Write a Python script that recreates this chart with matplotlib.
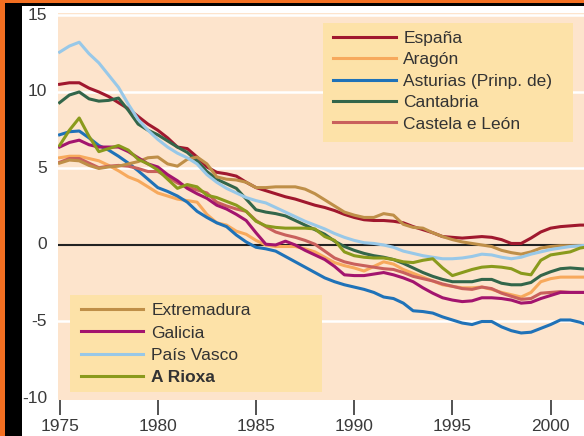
import numpy as np
import matplotlib.pyplot as plt
from matplotlib.patches import Rectangle

plt.rcParams['font.family'] = ['Liberation Sans', 'DejaVu Sans']

# half-year grid, 1975 - 2002
years = np.arange(1975, 2002.01, 0.5)

espana = [10.5, 10.6, 10.6, 10.25, 10.0, 9.7, 9.3, 8.9, 8.4, 7.9,
          7.5, 7.0, 6.4, 6.3, 5.75, 5.1, 4.75, 4.65, 4.5, 4.1,
          3.75, 3.55, 3.35, 3.15, 3.0, 2.8, 2.6, 2.45, 2.25, 2.0,
          1.8, 1.65, 1.6, 1.6, 1.55, 1.45, 1.2, 1.0, 0.8, 0.55,
          0.5, 0.45, 0.5, 0.55, 0.5, 0.35, 0.1, 0.1, 0.45, 0.85,
          1.1, 1.2, 1.25, 1.3, 1.3]
aragon = [5.7, 5.8, 5.8, 5.65, 5.5, 5.2, 4.85, 4.45, 4.2, 3.8,
          3.4, 3.2, 3.0, 2.9, 2.8, 2.0, 1.45, 1.3, 0.9, 0.7,
          0.3, 0.0, -0.1, -0.1, -0.1, -0.25, -0.45, -0.8, -1.15, -1.35,
          -1.5, -1.7, -1.4, -1.1, -1.25, -1.6, -1.85, -2.1, -2.35, -2.6,
          -2.7, -2.8, -2.8, -2.75, -2.9, -3.1, -3.25, -3.4, -3.1, -2.4,
          -2.2, -2.1, -2.1, -2.1, -2.1]
asturias = [7.2, 7.4, 7.45, 7.0, 6.5, 6.2, 5.8, 5.35, 4.85, 4.3,
            3.75, 3.5, 3.2, 2.8, 2.2, 1.8, 1.45, 1.2, 0.65, 0.2,
            -0.15, -0.25, -0.4, -0.75, -1.1, -1.45, -1.8, -2.15, -2.4, -2.6,
            -2.75, -2.9, -3.1, -3.4, -3.5, -3.8, -4.3, -4.35, -4.45, -4.7,
            -4.9, -5.1, -5.2, -5.0, -5.0, -5.35, -5.6, -5.75, -5.7, -5.45,
            -5.2, -4.9, -4.9, -5.05, -5.3]
cantabria = [9.3, 9.8, 10.0, 9.55, 9.4, 9.45, 9.6, 8.8, 7.9, 7.5,
             7.2, 6.8, 6.4, 6.05, 5.5, 4.8, 4.3, 4.0, 3.7, 3.0,
             2.3, 2.15, 2.05, 1.9, 1.6, 1.3, 1.0, 0.7, 0.25, -0.1,
             -0.35, -0.55, -0.7, -0.8, -0.95, -1.2, -1.5, -1.8, -2.05, -2.25,
             -2.4, -2.4, -2.4, -2.25, -2.25, -2.5, -2.6, -2.6, -2.45, -2.0,
             -1.75, -1.55, -1.5, -1.55, -1.6]
castela = [5.4, 5.65, 5.65, 5.35, 5.05, 5.15, 5.2, 5.15, 5.0, 4.8,
           4.8, 4.45, 4.05, 3.8, 3.6, 3.4, 2.8, 2.55, 2.35, 2.2,
           1.6, 1.2, 0.85, 0.65, 0.5, 0.3, 0.05, -0.4, -0.85, -1.1,
           -1.25, -1.35, -1.45, -1.55, -1.6, -1.8, -2.05, -2.2, -2.35, -2.55,
           -2.7, -2.85, -2.9, -2.75, -2.85, -3.15, -3.35, -3.55, -3.5, -3.15,
           -3.1, -3.05, -3.1, -3.1, -3.1]
extremadura = [5.35, 5.55, 5.5, 5.2, 5.0, 5.1, 5.15, 5.3, 5.45, 5.7,
               5.75, 5.3, 5.15, 5.6, 5.75, 5.3, 4.45, 4.3, 4.25, 4.1,
               3.75, 3.75, 3.8, 3.8, 3.8, 3.65, 3.35, 2.95, 2.55, 2.15,
               1.95, 1.8, 1.8, 2.05, 1.95, 1.35, 1.15, 1.1, 0.8, 0.55,
               0.35, 0.2, 0.1, 0.0, -0.1, -0.35, -0.5, -0.6, -0.45, -0.2,
               -0.1, -0.05, -0.05, -0.05, -0.05]
galicia = [6.4, 6.7, 6.85, 6.55, 6.4, 6.4, 6.4, 6.1, 5.7, 5.3,
           5.1, 4.6, 4.2, 3.7, 3.35, 3.05, 2.6, 2.35, 2.0, 1.6,
           0.8, 0.05, 0.0, 0.25, 0.0, -0.35, -0.65, -0.95, -1.4, -1.95,
           -2.0, -2.0, -1.9, -1.8, -1.95, -2.15, -2.4, -2.8, -3.15, -3.45,
           -3.6, -3.7, -3.65, -3.45, -3.45, -3.5, -3.6, -3.8, -3.75, -3.5,
           -3.3, -3.1, -3.1, -3.1, -3.1]
pais_vasco = [12.6, 13.0, 13.25, 12.5, 11.9, 11.1, 10.3, 9.2, 8.2, 7.5,
              6.9, 6.4, 6.0, 5.7, 5.3, 4.6, 4.1, 3.7, 3.4, 3.1,
              2.9, 2.75, 2.45, 2.15, 1.85, 1.55, 1.3, 1.05, 0.75, 0.5,
              0.3, 0.15, 0.1, 0.0, -0.15, -0.4, -0.55, -0.7, -0.8, -0.9,
              -0.9, -0.85, -0.75, -0.6, -0.65, -0.8, -0.9, -0.8, -0.6, -0.45,
              -0.3, -0.2, -0.1, -0.05, 0.0]
rioxa = [6.5, 7.5, 8.3, 7.1, 6.1, 6.3, 6.5, 6.2, 5.6, 5.3,
         4.9, 4.3, 3.7, 3.95, 3.8, 3.25, 3.1, 2.85, 2.6, 2.2,
         1.55, 1.25, 1.15, 1.1, 1.1, 1.1, 1.05, 0.55, 0.3, -0.45,
         -0.7, -0.8, -0.85, -0.85, -0.95, -1.1, -1.15, -1.0, -0.9, -1.5,
         -2.0, -1.8, -1.6, -1.45, -1.4, -1.45, -1.55, -1.85, -1.95, -1.0,
         -0.65, -0.55, -0.45, -0.2, -0.1]

upper_names = ["España", "Aragón", "Asturias (Prinp. de)", "Cantabria", "Castela e León"]
upper_data = [espana, aragon, asturias, cantabria, castela]
upper_cols = ["#a0182e", "#f7a95c", "#1f72b8", "#33664a", "#c9605c"]

lower_names = ["Extremadura", "Galicia", "País Vasco", "A Rioxa"]
lower_data = [extremadura, galicia, pais_vasco, rioxa]
lower_cols = ["#bf8f48", "#a3146e", "#98c8e8", "#8a9a1c"]

fig = plt.figure(figsize=(5.84, 4.36), dpi=100)
ax = fig.add_axes([58 / 584, 36 / 436, 526 / 584, 387 / 436])
ax.set_facecolor("#fde4cc")

# frame decoration
fig.add_artist(Rectangle((0, 0), 5 / 584, 1, transform=fig.transFigure, fc="#f36f21", ec="none"))
fig.add_artist(Rectangle((5 / 584, 0), 17 / 584, 1, transform=fig.transFigure, fc="black", ec="none"))
fig.add_artist(Rectangle((0, 1 - 3 / 436), 1, 3 / 436, transform=fig.transFigure, fc="#f36f21", ec="none"))
fig.add_artist(Rectangle((5 / 584, 1 - 6 / 436), 1, 3 / 436, transform=fig.transFigure, fc="black", ec="none"))

for yv in [15, 10, 5, -5]:
    ax.axhline(yv, color="white", lw=1.8, zorder=1)
ax.axhline(0, color="#222222", lw=1.5, zorder=1)

lines_up = []
for name, vals, col in zip(upper_names, upper_data, upper_cols):
    l, = ax.plot(years, vals, color=col, lw=2.2, label=name, zorder=2)
    lines_up.append(l)
lines_low = []
for name, vals, col in zip(lower_names, lower_data, lower_cols):
    l, = ax.plot(years, vals, color=col, lw=2.2, label=name, zorder=2)
    lines_low.append(l)

ax.set_xlim(1974.92, 2001.7)
ax.set_ylim(-10.13, 15.16)
ax.set_xticks([1975, 1980, 1985, 1990, 1995, 2000])
ax.set_yticks([15, 10, 5, 0, -5, -10])
ax.set_yticklabels(["15", "10", "5", "0", "-5", "-10"])
for s in ax.spines.values():
    s.set_visible(False)
ax.tick_params(axis="x", direction="out", length=11, width=1.3, color="#444444",
               pad=3, labelsize=12.5, labelcolor="#3a3a3a")
ax.tick_params(axis="y", length=0, pad=8, labelsize=12.5, labelcolor="#3a3a3a")
for t in ax.get_yticklabels():
    t.set_verticalalignment("center")

# legend boxes
ax.add_patch(Rectangle((0.504, 0.667), 0.475, 0.307, transform=ax.transAxes,
                       fc="#fde2a8", ec="none", zorder=4))
ax.add_patch(Rectangle((0.023, 0.021), 0.479, 0.250, transform=ax.transAxes,
                       fc="#fde2a8", ec="none", zorder=4))

leg1 = ax.legend(handles=lines_up, loc="upper left", bbox_to_anchor=(0.523, 0.954),
                 frameon=False, borderpad=0, borderaxespad=0, handlelength=3.6,
                 handletextpad=0.45, labelspacing=0.36, fontsize=12.5)
leg1.set_zorder(5)
for t in leg1.get_texts():
    t.set_color("#333333")
ax.add_artist(leg1)

leg2 = ax.legend(handles=lines_low, loc="upper left", bbox_to_anchor=(0.0437, 0.250),
                 frameon=False, borderpad=0, borderaxespad=0, handlelength=3.6,
                 handletextpad=0.45, labelspacing=0.4, fontsize=12.5)
leg2.set_zorder(5)
for t in leg2.get_texts():
    t.set_color("#333333")
leg2.get_texts()[-1].set_fontweight("bold")

fig.savefig("out.png", dpi=100)
